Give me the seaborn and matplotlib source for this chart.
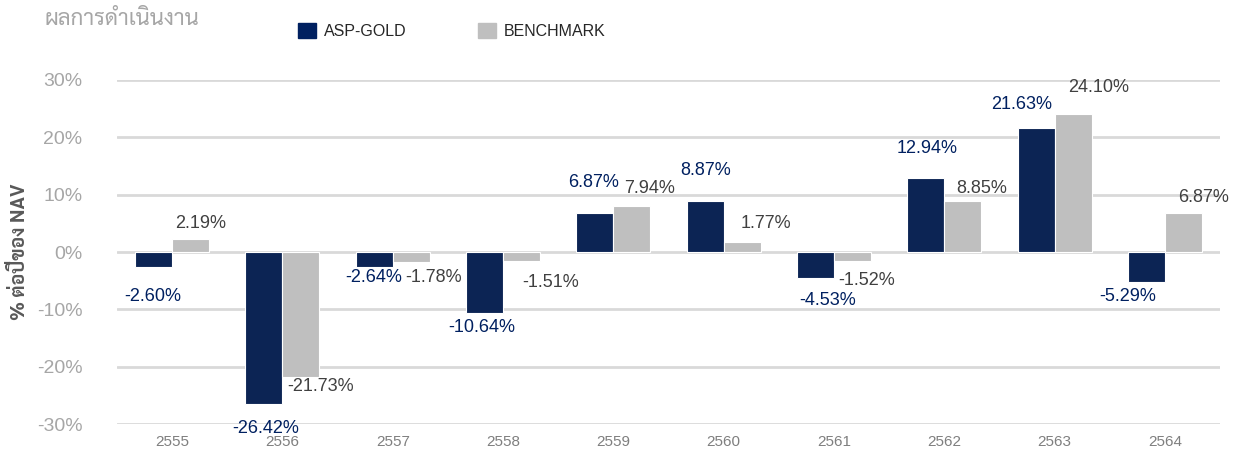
import matplotlib
matplotlib.use("Agg")
import matplotlib.pyplot as plt
from matplotlib import font_manager
from matplotlib.ft2font import FT2Font
import pandas as pd
import seaborn as sns

years = ["2555", "2556", "2557", "2558", "2559", "2560", "2561", "2562", "2563", "2564"]
asp_gold = [-2.60, -26.42, -2.64, -10.64, 6.87, 8.87, -4.53, 12.94, 21.63, -5.29]
benchmark = [2.19, -21.73, -1.78, -1.51, 7.94, 1.77, -1.52, 8.85, 24.10, 6.87]
series_names = ["ASP-GOLD", "BENCHMARK"]
yticks = [-30, -20, -10, 0, 10, 20, 30]

# hand-placed nudges for the value labels (pixels: sideways, away from bar end)
asp_label_nudge = [(-1, 30), (2, 25), (-1, 10), (-3, 14), (-1, 30),
                   (0, 31), (12, 22), (1, 29), (-14, 23), (-19, 14)]
bm_label_nudge = [(10, 16), (20, 10), (22, 15), (29, 22), (18, 18),
                  (24, 18), (14, 20), (19, 13), (26, 26), (20, 15)]

NAVY = "#002060"
GREY = "#BFBFBF"


def thai_family():
    """Pick an installed family with Thai glyphs, preferring looped designs."""
    installed = {f.name for f in font_manager.fontManager.ttflist}
    for name in ["Sarabun", "Noto Sans Thai Looped", "Noto Sans Thai",
                 "Anuphan", "Athiti"]:
        if name in installed:
            return name
    for path in font_manager.findSystemFonts():
        try:
            if 0x0E1C in FT2Font(path).get_charmap():
                return font_manager.FontProperties(fname=path).get_name()
        except Exception:
            continue
    return "DejaVu Sans"


sns.set_theme(style="white")
thai = thai_family()
plt.rcParams["font.family"] = ["Liberation Sans", thai, "DejaVu Sans"]

df = pd.DataFrame({
    "year": years * 2,
    "value": asp_gold + benchmark,
    "series": [series_names[0]] * len(years) + [series_names[1]] * len(years),
})

fig = plt.figure(figsize=(12.38, 4.57), dpi=100)
ax = fig.add_axes([0.0945, 0.072, 0.891, 0.753])

sns.barplot(data=df, x="year", y="value", hue="series", order=years,
            hue_order=series_names, palette=[NAVY, GREY], width=0.67,
            edgecolor="white", linewidth=0.8, errorbar=None, ax=ax,
            legend=True, zorder=3)

ax.set_ylim(-30, 30)
ax.set_xlim(-0.5, len(years) - 0.5)
ax.set_yticks(yticks)
ax.set_yticklabels([f"{t}%" for t in yticks])
ax.yaxis.grid(True, color="#D9D9D9", linewidth=2, zorder=0)
ax.xaxis.grid(False)
for s in ax.spines.values():
    s.set_visible(False)
ax.tick_params(axis="y", labelsize=14, labelcolor="#A6A6A6", length=0, pad=25)
ax.tick_params(axis="x", labelsize=11, labelcolor="#7F7F7F", length=0, pad=8)
ax.set_xlabel("")
ax.set_ylabel("% ต่อปีของ NAV", fontsize=14, color="#595959",
              fontweight="bold", labelpad=0, family=[thai, "DejaVu Sans"])
ax.yaxis.set_label_coords(-0.080, 0.5)

# value labels just beyond the end of each bar
label_colors = [NAVY, "#404040"]
for container, color, nudges in zip(ax.containers, label_colors,
                                    [asp_label_nudge, bm_label_nudge]):
    for bar, (dx, dy) in zip(container, nudges):
        v = bar.get_height()
        x = bar.get_x() + bar.get_width() / 2
        ax.annotate(f"{v:.2f}%", (x, v), xytext=(dx, dy if v >= 0 else -dy),
                    textcoords="offset pixels", ha="center", va="center",
                    fontsize=13, color=color)

ax.get_legend().remove()
handles = [plt.Rectangle((0, 0), 1, 1, color=NAVY),
           plt.Rectangle((0, 0), 1, 1, color=GREY)]
fig.legend(handles, series_names, loc="center", bbox_to_anchor=(0.365, 0.932),
           ncol=2, frameon=False, fontsize=11.5, handlelength=1.1,
           handleheight=1.1, handletextpad=0.5, columnspacing=4.5,
           labelcolor="#262626")

fig.text(0.036, 0.957, "ผลการดำเนินงาน", fontsize=16, color="#A6A6A6",
         ha="left", va="center", family=[thai, "DejaVu Sans"])

fig.savefig("out.png", dpi=100)
